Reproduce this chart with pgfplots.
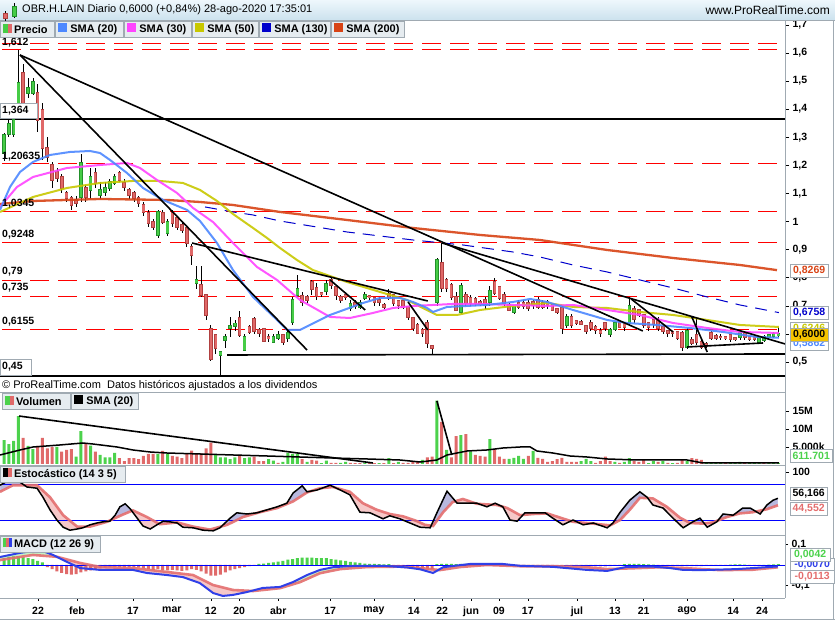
\documentclass[border=0pt]{standalone}
\usepackage{fontspec}
\setmainfont{Liberation Sans}
\usepackage{pgfplots}
\usepackage{pgfplotstable}
\pgfplotsset{compat=1.18}

\definecolor{upg}{HTML}{46CC46}
\definecolor{upgd}{HTML}{22902A}
\definecolor{dnr}{HTML}{E06868}
\definecolor{dnrd}{HTML}{B04040}
\definecolor{sma20}{HTML}{4D88FF}
\definecolor{sma30}{HTML}{FF44FF}
\definecolor{sma50}{HTML}{C8C800}
\definecolor{sma130}{HTML}{0000CC}
\definecolor{sma200}{HTML}{D84315}
\definecolor{fibred}{HTML}{FF0000}
\definecolor{framegray}{HTML}{A0AAB2}
\definecolor{boxbg}{HTML}{E6ECF0}
\definecolor{stochD}{HTML}{E46E6E}
\definecolor{lav}{HTML}{B8B8DE}
\definecolor{pinkf}{HTML}{F6C8C8}
\definecolor{greenf}{HTML}{C4F2C4}
\definecolor{gold}{HTML}{F5C400}
\definecolor{macdb}{HTML}{3040E8}
\definecolor{volg}{HTML}{4CD24C}
\definecolor{volr}{HTML}{E06A6A}
\definecolor{titletop}{HTML}{EEF7FC}
\definecolor{titlebot}{HTML}{CCE2EE}

\pgfplotstableread{
i o h l c
0 1.244 1.315 1.215 1.308
1 1.311 1.361 1.300 1.347
2 1.311 1.372 1.300 1.361
3 1.422 1.612 1.415 1.493
4 1.528 1.560 1.410 1.422
5 1.457 1.510 1.440 1.475
6 1.457 1.510 1.450 1.496
7 1.457 1.490 1.320 1.361
8 1.397 1.420 1.220 1.262
9 1.262 1.300 1.210 1.230
10 1.201 1.210 1.120 1.148
11 1.176 1.190 1.140 1.155
12 1.158 1.170 1.100 1.119
13 1.101 1.110 1.070 1.083
14 1.083 1.090 1.040 1.058
15 1.076 1.090 1.050 1.066
16 1.087 1.240 1.070 1.208
17 1.119 1.130 1.070 1.087
18 1.112 1.190 1.080 1.158
19 1.173 1.190 1.120 1.137
20 1.094 1.140 1.080 1.112
21 1.105 1.140 1.090 1.119
22 1.119 1.150 1.110 1.141
23 1.137 1.170 1.130 1.158
24 1.173 1.180 1.140 1.148
25 1.137 1.150 1.110 1.123
26 1.112 1.120 1.080 1.094
27 1.101 1.110 1.070 1.083
28 1.083 1.090 1.050 1.066
29 1.058 1.070 1.020 1.033
30 1.030 1.040 0.980 0.995
31 0.998 1.010 0.970 0.980
32 0.952 1.040 0.940 1.034
33 1.030 1.040 0.990 0.998
34 0.959 1.010 0.950 0.998
35 1.030 1.040 0.980 0.995
36 1.012 1.020 0.970 0.980
37 0.987 1.000 0.960 0.970
38 0.977 0.980 0.910 0.923
39 0.909 0.920 0.845 0.881
40 0.781 0.840 0.760 0.792
41 0.774 0.840 0.730 0.738
42 0.738 0.740 0.650 0.667
43 0.617 0.630 0.505 0.511
44 0.596 0.600 0.530 0.550
45 0.525 0.540 0.454 0.536
46 0.578 0.600 0.550 0.589
47 0.621 0.660 0.590 0.628
48 0.628 0.650 0.610 0.638
49 0.656 0.680 0.590 0.596
50 0.542 0.600 0.540 0.589
51 0.624 0.630 0.600 0.607
52 0.653 0.660 0.600 0.610
53 0.614 0.620 0.590 0.603
54 0.617 0.620 0.570 0.575
55 0.589 0.600 0.570 0.585
56 0.571 0.600 0.570 0.589
57 0.585 0.610 0.580 0.596
58 0.596 0.600 0.560 0.571
59 0.585 0.610 0.570 0.603
60 0.642 0.730 0.630 0.721
61 0.738 0.810 0.730 0.760
62 0.735 0.750 0.700 0.713
63 0.731 0.740 0.710 0.720
64 0.785 0.790 0.740 0.760
65 0.763 0.780 0.720 0.735
66 0.745 0.750 0.730 0.742
67 0.752 0.790 0.740 0.777
68 0.792 0.800 0.760 0.774
69 0.767 0.770 0.720 0.738
70 0.731 0.740 0.710 0.721
71 0.738 0.750 0.720 0.731
72 0.692 0.720 0.680 0.706
73 0.710 0.720 0.690 0.699
74 0.695 0.720 0.690 0.710
75 0.728 0.750 0.720 0.738
76 0.735 0.740 0.720 0.731
77 0.728 0.730 0.700 0.713
78 0.720 0.730 0.700 0.713
79 0.703 0.710 0.690 0.695
80 0.742 0.760 0.720 0.728
81 0.738 0.740 0.700 0.710
82 0.717 0.720 0.690 0.703
83 0.717 0.720 0.690 0.695
84 0.695 0.700 0.650 0.660
85 0.656 0.660 0.610 0.621
86 0.631 0.640 0.600 0.603
87 0.614 0.620 0.590 0.603
88 0.639 0.650 0.550 0.568
89 0.557 0.560 0.528 0.550
90 0.713 0.870 0.700 0.863
91 0.852 0.925 0.750 0.763
92 0.792 0.800 0.750 0.763
93 0.774 0.780 0.720 0.731
94 0.731 0.750 0.680 0.685
95 0.678 0.780 0.670 0.770
96 0.738 0.750 0.700 0.710
97 0.728 0.740 0.700 0.710
98 0.724 0.730 0.700 0.710
99 0.713 0.720 0.700 0.706
100 0.720 0.730 0.690 0.703
101 0.713 0.770 0.700 0.752
102 0.785 0.800 0.740 0.745
103 0.767 0.770 0.720 0.728
104 0.738 0.750 0.700 0.710
105 0.703 0.710 0.680 0.685
106 0.678 0.700 0.670 0.695
107 0.710 0.720 0.690 0.695
108 0.710 0.720 0.690 0.699
109 0.710 0.720 0.680 0.692
110 0.713 0.720 0.690 0.703
111 0.720 0.730 0.690 0.695
112 0.710 0.720 0.690 0.695
113 0.713 0.720 0.690 0.703
114 0.703 0.710 0.680 0.685
115 0.688 0.690 0.670 0.678
116 0.692 0.700 0.600 0.621
117 0.631 0.670 0.620 0.660
118 0.660 0.670 0.620 0.631
119 0.646 0.650 0.630 0.639
120 0.642 0.650 0.630 0.635
121 0.628 0.630 0.600 0.610
122 0.639 0.650 0.610 0.621
123 0.624 0.630 0.600 0.614
124 0.610 0.620 0.590 0.603
125 0.639 0.640 0.610 0.621
126 0.600 0.620 0.590 0.614
127 0.617 0.640 0.610 0.639
128 0.642 0.650 0.620 0.624
129 0.639 0.640 0.610 0.624
130 0.639 0.730 0.630 0.699
131 0.688 0.700 0.640 0.653
132 0.685 0.690 0.660 0.667
133 0.667 0.670 0.620 0.631
134 0.639 0.640 0.610 0.624
135 0.649 0.650 0.620 0.635
136 0.649 0.660 0.610 0.621
137 0.624 0.630 0.600 0.610
138 0.610 0.610 0.590 0.603
139 0.609 0.610 0.590 0.602
140 0.606 0.610 0.580 0.585
141 0.603 0.610 0.540 0.553
142 0.553 0.620 0.545 0.610
143 0.578 0.590 0.560 0.567
144 0.596 0.660 0.560 0.571
145 0.571 0.580 0.545 0.553
146 0.564 0.570 0.550 0.557
147 0.603 0.610 0.580 0.585
148 0.592 0.600 0.580 0.585
149 0.590 0.600 0.580 0.587
150 0.589 0.590 0.580 0.585
151 0.596 0.600 0.570 0.582
152 0.585 0.590 0.575 0.582
153 0.589 0.610 0.580 0.603
154 0.603 0.610 0.580 0.589
155 0.589 0.590 0.575 0.582
156 0.589 0.590 0.575 0.582
157 0.571 0.590 0.565 0.585
158 0.578 0.595 0.570 0.589
159 0.589 0.600 0.580 0.596
160 0.592 0.605 0.585 0.599
161 0.595 0.625 0.590 0.600
}\candles

\pgfplotstableread{
i v d
0 6.9 1
1 5.8 1
2 6.7 1
3 13.6 1
4 7.5 0
5 5.3 1
6 4.4 1
7 5.3 0
8 7.5 0
9 4.6 0
10 5.0 0
11 5.0 1
12 3.7 0
13 4.2 0
14 4.4 0
15 2.3 1
16 9.4 1
17 6.0 0
18 5.4 1
19 3.7 0
20 2.8 1
21 2.1 1
22 2.1 1
23 3.4 1
24 1.9 0
25 1.1 0
26 1.9 0
27 1.9 0
28 1.6 0
29 2.5 0
30 3.1 0
31 3.1 0
32 3.1 1
33 3.9 0
34 3.1 1
35 2.5 0
36 2.3 0
37 1.9 0
38 3.1 0
39 4.0 0
40 3.1 0
41 3.2 0
42 4.6 0
43 6.2 0
44 2.8 1
45 2.1 1
46 2.1 1
47 1.6 1
48 2.1 1
49 2.8 0
50 1.9 1
51 2.1 1
52 2.3 0
53 1.1 0
54 1.1 0
55 1.6 1
56 1.2 1
57 0.6 0
58 0.9 1
59 3.4 1
60 3.1 1
61 3.1 1
62 1.6 0
63 0.9 1
64 1.4 0
65 1.2 0
66 0.5 1
67 1.2 1
68 0.6 0
69 0.6 0
70 0.6 1
71 0.9 1
72 0.6 0
73 0.5 0
74 0.5 0
75 0.6 1
76 0.5 0
77 0.5 0
78 0.5 1
79 0.5 0
80 1.9 1
81 0.5 0
82 0.9 1
83 0.6 0
84 0.6 0
85 1.1 0
86 0.9 0
87 1.4 1
88 2.1 0
89 2.3 0
90 17.9 1
91 12.0 0
92 4.2 1
93 2.1 0
94 8.0 0
95 8.3 1
96 8.6 0
97 3.7 1
98 2.8 0
99 2.5 0
100 2.3 0
101 7.2 1
102 4.4 0
103 2.3 0
104 1.7 0
105 1.7 1
106 2.0 1
107 2.5 1
108 1.7 1
109 2.5 0
110 3.9 1
111 2.0 0
112 1.7 0
113 0.9 0
114 1.1 0
115 1.6 0
116 2.0 0
117 0.9 0
118 0.9 0
119 0.9 0
120 1.1 1
121 1.7 1
122 1.1 1
123 0.6 0
124 1.1 0
125 2.3 0
126 1.1 0
127 0.9 1
128 0.6 0
129 0.9 1
130 1.9 1
131 1.1 0
132 0.9 0
133 1.4 0
134 0.5 1
135 1.1 1
136 0.9 0
137 1.1 1
138 0.6 0
139 0.5 1
140 0.6 0
141 1.4 0
142 1.1 1
143 1.9 0
144 1.7 0
145 1.4 0
146 0.6 1
147 0.6 1
148 0.5 1
149 0.5 1
150 0.5 0
151 0.6 1
152 0.5 1
153 0.9 1
154 0.5 0
155 0.6 1
156 0.5 1
157 0.6 1
158 0.5 0
159 0.6 1
160 0.5 1
161 0.6 1
}\volume

\pgfplotstableread{
i h
0 0.034
1 0.039
2 0.042
3 0.042
4 0.039
5 0.034
6 0.029
7 0.020
8 0.013
9 -0.010
10 -0.020
11 -0.031
12 -0.039
13 -0.044
14 -0.047
15 -0.044
16 -0.036
17 -0.031
18 -0.026
19 -0.020
20 -0.016
21 -0.013
22 -0.010
23 -0.010
24 -0.012
25 -0.013
26 -0.012
27 -0.010
28 -0.013
29 -0.016
30 -0.020
31 -0.024
32 -0.020
33 -0.024
34 -0.026
35 -0.024
36 -0.026
37 -0.029
38 -0.026
39 -0.020
40 -0.024
41 -0.031
42 -0.042
43 -0.052
44 -0.052
45 -0.047
46 -0.036
47 -0.026
48 -0.020
49 -0.015
50 -0.010
51 -0.006
52 -0.004
53 0.005
54 0.007
55 0.010
56 0.013
57 0.017
58 0.020
59 0.026
60 0.029
61 0.033
62 0.036
63 0.036
64 0.036
65 0.034
66 0.034
67 0.033
68 0.029
69 0.026
70 0.022
71 0.020
72 0.015
73 0.013
74 0.010
75 0.007
76 0.006
77 0.005
78 0.004
79 0.003
80 0.004
81 -0.003
82 -0.003
83 -0.004
84 -0.006
85 -0.010
86 -0.014
87 -0.020
88 -0.024
89 -0.020
90 0.004
91 0.006
92 0.006
93 0.005
94 0.004
95 0.006
96 0.005
97 0.004
98 0.003
99 0.002
100 0.002
101 -0.002
102 -0.003
103 -0.003
104 -0.004
105 -0.005
106 -0.005
107 -0.004
108 -0.004
109 -0.004
110 -0.003
111 -0.004
112 -0.004
113 -0.005
114 -0.005
115 -0.006
116 -0.007
117 -0.006
118 -0.006
119 -0.005
120 -0.005
121 -0.006
122 -0.006
123 -0.007
124 -0.007
125 -0.007
126 -0.006
127 -0.004
128 -0.002
129 0.004
130 0.006
131 0.006
132 0.005
133 0.004
134 0.003
135 0.002
136 -0.004
137 -0.005
138 -0.006
139 -0.006
140 -0.006
141 -0.007
142 -0.006
143 -0.006
144 -0.005
145 -0.005
146 -0.004
147 -0.003
148 -0.002
149 -0.002
150 -0.001
151 0.002
152 0.003
153 0.003
154 0.002
155 -0.001
156 -0.002
157 -0.001
158 0.001
159 0.002
160 0.003
161 0.004
}\hist

\pgfplotstableread{
x y
-0.83 78
1.25 87
3.33 83
4.78 75
6.86 73
8.1 58
9.56 37
11.0 20
12.3 8
13.7 3
15.2 5
16.4 7
17.9 12
19.3 15
20.6 17
22.0 18
23.1 28
24.1 42
25.2 47
26.2 39
27.7 23
28.9 10
30.4 5
31.8 12
33.1 18
34.5 17
36.0 15
37.2 8
39.3 7
41.4 3
43.5 2
44.9 7
47.0 23
48.4 32
50.5 30
52.6 32
54.7 37
56.8 42
58.8 48
60.1 65
62.0 77
63.0 67
65.1 70
67.8 78
69.9 70
71.9 62
74.0 33
76.1 32
78.8 22
80.2 27
82.3 22
84.4 15
86.5 8
88.6 7
90.0 32
92.1 68
94.2 48
96.3 48
98.3 48
100.4 42
102.1 48
103.7 42
105.2 20
106.7 18
108.3 32
110.4 32
112.5 32
114.1 23
116.2 12
118.3 20
120.4 12
122.5 15
125.4 7
126.6 15
128.1 33
130.1 53
132.2 67
133.7 58
134.9 45
137.0 40
139.1 23
141.2 7
143.2 17
144.7 23
146.2 8
148.2 17
149.5 30
151.6 28
153.6 40
155.1 40
157.2 30
158.6 45
159.9 53
160.9 56.166
}\stK

\pgfplotstableread{
x y
-0.83 67
1.87 78
6.86 78
9.56 58
12.3 28
15.2 9
17.9 9
21.4 17
24.7 29
26.8 36
29.7 25
32.4 13
36.0 16
39.3 9
42.8 4
46.4 12
49.7 25
53.2 33
56.8 40
60.1 51
63.0 66
65.7 73
68.4 75
71.9 67
74.6 48
77.5 37
80.2 30
83.0 26
85.9 18
87.5 12
89.2 10
91.3 33
93.3 50
95.4 55
98.3 47
102.5 45
104.6 40
107.3 28
110.0 30
112.9 31
115.6 24
118.3 17
122.5 14
126.0 11
128.1 20
130.1 37
132.2 57
134.9 56
137.8 42
140.5 24
142.6 15
145.3 14
147.4 16
150.3 25
153.0 31
155.7 33
158.6 38
160.9 44.552
}\stD

\pgfplotstableread{
x y
-0.83 0.039
3.33 0.059
7.48 0.073
10.2 0.049
13.1 0.015
15.8 -0.015
20.0 -0.024
26.8 -0.024
29.7 -0.039
33.9 -0.049
37.2 -0.059
40.7 -0.088
43.5 -0.137
45.5 -0.151
47.6 -0.146
50.5 -0.132
53.8 -0.112
57.4 -0.107
60.1 -0.083
63.0 -0.049
65.7 -0.024
68.4 -0.011
71.9 -0.005
78.8 -0.004
83.8 -0.012
86.5 -0.021
89.2 -0.039
91.3 -0.011
93.3 -0.005
96.9 0.005
103.7 0.005
107.3 -0.004
114.1 -0.009
121.2 -0.024
125.4 -0.029
129.5 -0.009
134.9 -0.008
138.5 -0.015
141.2 -0.024
145.3 -0.025
152.4 -0.020
155.7 -0.015
160.9 -0.0070
}\macdL

\pgfplotstableread{
x y
-0.83 0.024
6.0 0.049
11.0 0.040
15.8 0.010
20.0 -0.010
26.8 -0.015
33.9 -0.034
39.3 -0.049
43.5 -0.098
47.6 -0.122
51.8 -0.127
57.4 -0.113
61.5 -0.084
65.7 -0.040
69.9 -0.020
75.5 -0.010
82.3 -0.008
86.5 -0.015
90.6 -0.025
94.8 -0.010
100.4 0.000
107.3 -0.006
114.1 -0.006
121.2 -0.011
125.4 -0.020
130.8 -0.016
136.4 -0.011
142.0 -0.016
148.9 -0.025
155.7 -0.023
160.9 -0.0113
}\sigL

% ---- helper tables for the two-colour fills between the indicator lines ----
\pgfplotstableread{
x y
160.9 -20
-0.83 -20
}\baseS
\pgfplotstableread{
x y
-3 -30
165 -30
165 130
-3 130
-3 -30
nan nan
}\rectS
\pgfplotstableread{
x y
160.9 -0.5
-0.83 -0.5
}\baseM
\pgfplotstableread{
x y
-3 -0.6
165 -0.6
165 0.5
-3 0.5
-3 -0.6
nan nan
}\rectM
\pgfplotstableread{
x y
nan nan
}\nanrow

\pgfplotstablevertcat{\polyK}{\stK}
\pgfplotstablevertcat{\polyK}{\baseS}
\pgfplotstablevertcat{\polyD}{\stD}
\pgfplotstablevertcat{\polyD}{\baseS}
\pgfplotstablevertcat{\whiteS}{\rectS}
\pgfplotstablevertcat{\whiteS}{\polyK}
\pgfplotstablevertcat{\whiteS}{\nanrow}
\pgfplotstablevertcat{\whiteS}{\polyD}

\pgfplotstablevertcat{\polyM}{\macdL}
\pgfplotstablevertcat{\polyM}{\baseM}
\pgfplotstablevertcat{\polyS}{\sigL}
\pgfplotstablevertcat{\polyS}{\baseM}
\pgfplotstablevertcat{\whiteM}{\rectM}
\pgfplotstablevertcat{\whiteM}{\polyM}
\pgfplotstablevertcat{\whiteM}{\nanrow}
\pgfplotstablevertcat{\whiteM}{\polyS}

\pgfplotsset{
  panel/.style={scale only axis, width=785pt, anchor=south west,
    xmin=-0.832, xmax=162.37, axis line style={draw=none},
    xtick=\empty, ytick pos=right, yticklabel pos=right,
    tick align=outside, major tick length=4pt,
    tick style={black, line width=0.5pt},
    yticklabel style={font=\bfseries\fontsize{10.5}{12}\selectfont, text=black},
    clip=true},
  ebar/.style 2 args={draw=none, mark=none, forget plot, restrict y to domain=0:5,
    error bars/.cd, y dir=both, y explicit, error mark=none,
    error bar style={draw=#1, line width=#2}},
}

\newcommand{\pricetag}[5]{% y center, text color, text, fill, width
  \node[draw=framegray, fill=#4, text=#2, inner sep=0pt, minimum width=#5pt,
        minimum height=13pt, anchor=west,
        font=\bfseries\fontsize{10.5}{12}\selectfont] at (790,#1) {#3};}
\newcommand{\legbox}[4]{% x0, x1, ytop(tikz), content
  \filldraw[fill=boxbg, draw=framegray, line width=0.6pt] (#1,#3) rectangle (#2,#3-16);
  \node[anchor=west, inner sep=0pt, font=\bfseries\fontsize{11}{12}\selectfont] at (#1+3,#3-8) {#4};}
\newcommand{\swatch}[1]{\textcolor{#1}{\rule{9pt}{9pt}}}

\begin{document}
\begin{tikzpicture}[x=1pt,y=1pt]
\useasboundingbox (0,0) rectangle (835,620);
\fill[white] (0,0) rectangle (835,620);

% ================= MAIN PRICE PANEL =================
\begin{axis}[panel, at={(0pt,228pt)}, height=372pt, ymin=0.3932, ymax=1.7171,
  ytick={0.5,0.6,0.7,0.8,0.9,1,1.1,1.2,1.3,1.4,1.5,1.6,1.7},
  yticklabels={{0,5},{},{0,7},{0,8},{0,9},1,{1,1},{1,2},{1,3},{1,4},{1,5},{1,6},{1,7}}]
\addplot[fibred, line width=0.9pt, dash pattern=on 19pt off 9pt, dash phase=26pt] coordinates {(-0.832,1.635) (162.37,1.635)};
\addplot[fibred, line width=0.9pt, dash pattern=on 19pt off 9pt, dash phase=26pt] coordinates {(-0.832,1.612) (162.37,1.612)};
\addplot[fibred, line width=0.9pt, dash pattern=on 19pt off 9pt, dash phase=26pt] coordinates {(-0.832,1.20635) (162.37,1.20635)};
\addplot[fibred, line width=0.9pt, dash pattern=on 19pt off 9pt, dash phase=26pt] coordinates {(-0.832,1.0345) (162.37,1.0345)};
\addplot[fibred, line width=0.9pt, dash pattern=on 19pt off 9pt, dash phase=26pt] coordinates {(-0.832,0.9248) (162.37,0.9248)};
\addplot[fibred, line width=0.9pt, dash pattern=on 19pt off 9pt, dash phase=26pt] coordinates {(-0.832,0.79) (162.37,0.79)};
\addplot[fibred, line width=0.9pt, dash pattern=on 19pt off 9pt, dash phase=26pt] coordinates {(-0.832,0.735) (162.37,0.735)};
\addplot[fibred, line width=0.9pt, dash pattern=on 19pt off 9pt, dash phase=26pt] coordinates {(-0.832,0.6155) (162.37,0.6155)};
\addplot[black, line width=2.2pt] coordinates {(-0.832,1.364) (162.37,1.364)};
\addplot[black, line width=2.2pt] coordinates {(-0.832,0.45) (162.37,0.45)};
% candles
\addplot[ebar={black}{0.7pt}] table[x=i, y expr={(\thisrow{h}+\thisrow{l})/2}, y error expr={(\thisrow{h}-\thisrow{l})/2}]{\candles};
\addplot[ebar={upgd}{3.6pt}] table[x=i, y expr={\thisrow{c}>=\thisrow{o} ? (\thisrow{o}+\thisrow{c})/2 : -1}, y error expr={abs(\thisrow{c}-\thisrow{o})/2+0.0025}]{\candles};
\addplot[ebar={upg}{2.2pt}] table[x=i, y expr={\thisrow{c}>=\thisrow{o} ? (\thisrow{o}+\thisrow{c})/2 : -1}, y error expr={abs(\thisrow{c}-\thisrow{o})/2}]{\candles};
\addplot[ebar={dnrd}{3.6pt}] table[x=i, y expr={\thisrow{c}<\thisrow{o} ? (\thisrow{o}+\thisrow{c})/2 : -1}, y error expr={abs(\thisrow{c}-\thisrow{o})/2+0.0025}]{\candles};
\addplot[ebar={dnr}{2.2pt}] table[x=i, y expr={\thisrow{c}<\thisrow{o} ? (\thisrow{o}+\thisrow{c})/2 : -1}, y error expr={abs(\thisrow{c}-\thisrow{o})/2}]{\candles};
% SMA 200
\addplot[sma200, line width=2.3pt, opacity=0.9] coordinates {(-0.83,1.0623) (6.03,1.0730) (19.96,1.0801) (33.9,1.0766) (40.75,1.0694) (47.6,1.0588) (57.38,1.0339) (71.3,1.0054) (85.0,0.9769) (99.0,0.9520) (111.4,0.9342) (125.4,0.8986) (139.1,0.8701) (153.0,0.8452) (160.7,0.8269)};
% SMA 130
\addplot[sma130, line width=1pt, dash pattern=on 12pt off 8pt] coordinates {(41.8,1.0517) (47.6,1.0339) (51.77,1.0232) (57.38,1.0018) (71.3,0.9627) (85.0,0.9342) (95.4,0.9164) (105.8,0.8915) (111.4,0.8737) (118.3,0.8452) (125.4,0.8203) (132.2,0.7919) (139.1,0.7634) (146.2,0.7314) (153.0,0.7029) (161.1,0.6758)};
% SMA 50
\addplot[sma50, line width=2pt, opacity=0.9] coordinates {(-0.83,1.0339) (6.03,1.0872) (13.1,1.1193) (19.96,1.1371) (26.8,1.1442) (32.4,1.1442) (37.2,1.1371) (40.75,1.1122) (44.28,1.0730) (47.6,1.0268) (51.77,0.9769) (54.68,0.9413) (57.38,0.9057) (60.9,0.8630) (64.2,0.8274) (71.3,0.7847) (78.2,0.7491) (83.8,0.7207) (87.9,0.6851) (90.0,0.6673) (94.2,0.6673) (99.0,0.6851) (105.8,0.6994) (112.9,0.7100) (118.3,0.6958) (125.4,0.6922) (132.2,0.6780) (139.1,0.6673) (146.2,0.6495) (153.0,0.6317) (161.1,0.6246)};
% SMA 30
\addplot[sma30, line width=2pt, opacity=0.9] coordinates {(-0.83,1.0517) (2.7,1.1228) (6.03,1.1584) (13.1,1.1904) (19.96,1.2011) (25.57,1.2082) (28.27,1.1904) (31.8,1.1477) (35.97,1.1015) (39.3,1.0481) (43.45,0.9981) (47.6,0.9235) (52.6,0.8381) (56.76,0.7919) (61.54,0.7207) (67.78,0.6602) (71.93,0.6566) (76.7,0.6744) (80.87,0.6922) (85.03,0.6994) (89.19,0.7029) (93.35,0.7065) (98.96,0.7065) (105.8,0.7029) (112.9,0.6994) (118.3,0.7029) (125.4,0.6851) (132.2,0.6673) (139.1,0.6388) (146.2,0.6210) (153.0,0.6068) (161.1,0.6033)};
% SMA 20
\addplot[sma20, line width=2pt, opacity=0.9] coordinates {(-0.83,1.0410) (1.25,1.1228) (3.33,1.1762) (6.03,1.2118) (9.56,1.2367) (13.72,1.2474) (17.88,1.2509) (19.96,1.2438) (22.04,1.2189) (25.57,1.1726) (28.9,1.1193) (33.06,1.0766) (38.05,1.0410) (40.75,1.0018) (44.28,0.9235) (47.6,0.8274) (51.77,0.7314) (56.76,0.6495) (58.84,0.6139) (61.54,0.6139) (67.78,0.6673) (74.64,0.7100) (78.17,0.7278) (82.33,0.7278) (85.03,0.7136) (87.94,0.6922) (89.19,0.6780) (92.1,0.6958) (96.26,0.6994) (100.4,0.7029) (105.8,0.7136) (109.4,0.7242) (112.9,0.7136) (118.3,0.6851) (125.4,0.6495) (129.5,0.6388) (135.8,0.6317) (142.6,0.6210) (149.5,0.6068) (156.5,0.5890) (161.1,0.5862)};
% trendlines
\addplot[black, line width=1.6pt] coordinates {(3.33,1.5926) (132.8,0.6104)};
\addplot[black, line width=1.6pt] coordinates {(3.33,1.5926) (63.0,0.5427)};
\addplot[black, line width=1.6pt] coordinates {(91.06,0.9235) (162.4,0.5641)};
\addplot[black, line width=1.6pt] coordinates {(39.1,0.9235) (88.1,0.7171)};
\addplot[black, line width=1.6pt] coordinates {(67.8,0.7918) (75.1,0.6851)};
\addplot[black, line width=1.6pt] coordinates {(84.0,0.7136) (88.1,0.6139)};
\addplot[black, line width=1.6pt] coordinates {(130.4,0.7242) (139.1,0.6068)};
\addplot[black, line width=1.6pt] coordinates {(143.0,0.6602) (146.2,0.5356)};
\addplot[black, line width=1.6pt] coordinates {(142.0,0.5534) (157.8,0.5676)};
\addplot[black, line width=1.6pt] coordinates {(46.4,0.5249) (162.4,0.5285)};
\end{axis}

% ================= VOLUME PANEL =================
\begin{axis}[panel, at={(0pt,155pt)}, height=73pt, ymin=0, ymax=20.28,
  ytick={5,10,15}, yticklabels={5.000k,10M,15M}]
\addplot[ybar, bar width=3pt, bar shift=0pt, fill=volg, draw=none, restrict y to domain=0:100]
  table[x=i, y expr={\thisrow{d}>0.5 ? \thisrow{v} : -1}]{\volume};
\addplot[ybar, bar width=3pt, bar shift=0pt, fill=volr, draw=none, restrict y to domain=0:100]
  table[x=i, y expr={\thisrow{d}<0.5 ? \thisrow{v} : -1}]{\volume};
\addplot[black, line width=1.5pt] coordinates {(-0.83,2.78) (3.33,4.17) (6.03,5.0) (11.6,5.56) (16.4,6.11) (18.5,5.83) (23.5,5.0) (26.8,4.17) (30.4,3.61) (33.9,3.33) (40.7,3.06) (47.6,2.78) (54.7,2.5) (61.5,2.22) (68.4,1.94) (75.5,1.67) (82.3,1.39) (86.5,0.83) (90.0,1.39) (92.1,2.78) (96.3,3.89) (100.4,4.17) (103.7,4.72) (107.3,5.0) (109.4,5.0) (110.8,3.89) (114.1,3.33) (117.7,2.5) (121.2,2.22) (125.4,1.67) (131.6,1.39) (142.0,1.39) (145.3,0.56) (155.7,0.56) (161.1,0.61)};
\addplot[black, line width=1.6pt] coordinates {(3.12,13.6) (76.7,0.56)};
\addplot[black, line width=1.6pt] coordinates {(90.0,17.8) (93.1,2.78)};
\end{axis}

% ================= STOCHASTIC PANEL =================
\begin{axis}[panel, at={(0pt,85pt)}, height=70pt, ymin=-5, ymax=111.7,
  ytick={100}, yticklabels={100}]
\addplot[fill=lav, draw=none] table[x=x,y=y]{\polyK};
\addplot[fill=pinkf, draw=none] table[x=x,y=y]{\polyD};
\addplot[fill=white, draw=none, even odd rule, unbounded coords=jump] table[x=x,y=y]{\whiteS};
\addplot[blue, line width=0.8pt] coordinates {(-0.832,80) (162.37,80)};
\addplot[blue, line width=0.8pt] coordinates {(-0.832,20) (162.37,20)};
\addplot[stochD, line width=2.6pt, opacity=0.9] table[x=x,y=y]{\stD};
\addplot[black, line width=1.5pt] table[x=x,y=y]{\stK};
\end{axis}

% ================= MACD PANEL =================
\begin{axis}[panel, at={(0pt,22pt)}, height=63pt, ymin=-0.161, ymax=0.1463,
  ytick={-0.1,0.1}, yticklabels={{-0,1},{0,1}},
  xtick={7.07,15.18,26.8,34.9,43.0,48.9,57.0,67.8,76.9,85.2,91.1,97.1,102.9,108.9,119.1,127.0,133.0,142.0,151.6,157.6},
  xticklabels={22,feb,17,mar,12,20,abr,17,may,14,22,jun,09,17,jul,13,21,ago,14,24},
  xtick pos=bottom, xticklabel pos=bottom, major tick length=3pt,
  xticklabel style={font=\bfseries\fontsize{10.5}{12}\selectfont, yshift=-2.5pt}]
\addplot[fill=greenf, draw=none] table[x=x,y=y]{\polyM};
\addplot[fill=pinkf, draw=none] table[x=x,y=y]{\polyS};
\addplot[fill=white, draw=none, even odd rule, unbounded coords=jump] table[x=x,y=y]{\whiteM};
\addplot[ybar, bar width=3pt, bar shift=0pt, fill=volg, draw=none, restrict y to domain=0:1]
  table[x=i, y=h]{\hist};
\addplot[ybar, bar width=3pt, bar shift=0pt, fill=volr, draw=none, restrict y to domain=-1:0]
  table[x=i, y=h]{\hist};
\addplot[blue, line width=0.8pt] coordinates {(-0.832,0) (162.37,0)};
\addplot[stochD, line width=2.6pt, opacity=0.9] table[x=x,y=y]{\sigL};
\addplot[macdb, line width=2pt] table[x=x,y=y]{\macdL};
\end{axis}

% ================= FRAMES =================
\draw[framegray, line width=0.8pt] (785,22) -- (785,600);
\draw[framegray, line width=0.8pt] (0,228) -- (785,228);
\draw[framegray, line width=0.8pt] (0,155) -- (785,155);
\draw[framegray, line width=0.8pt] (0,85) -- (785,85);
\draw[framegray, line width=0.8pt] (0,22) -- (785,22);
\draw[framegray, line width=0.8pt] (833.5,0) -- (833.5,620);
\draw[framegray, line width=0.8pt] (0,0.4) -- (835,0.4);

% ================= TITLE BAR =================
\shade[top color=titletop, bottom color=titlebot] (0,600) rectangle (835,620);
\draw[framegray, line width=0.8pt] (0,600) -- (835,600);
\draw[black, line width=0.5pt] (5.5,598) -- (5.5,608.5);
\filldraw[fill=dnr, draw=dnrd, line width=0.5pt] (3.5,601.5) rectangle (7.5,606.5);
\draw[black, line width=0.5pt] (14.5,602) -- (14.5,617);
\filldraw[fill=upg, draw=upgd, line width=0.5pt] (12.5,604) rectangle (16.5,613.5);
\node[anchor=west, inner sep=0pt, font=\fontsize{11}{13}\selectfont] at (22,610) {OBR.H.LAIN Diario 0,6000 (+0,84\%) 28-ago-2020 17:35:01};
\node[anchor=east, inner sep=0pt, font=\fontsize{12}{14}\selectfont] at (830,609.5) {www.ProRealTime.com};

% ================= LEFT LEVEL LABELS =================
\def\lvfont{\bfseries\fontsize{10.5}{12}\selectfont}
\node[anchor=west, inner sep=0pt, font=\lvfont] at (2,577.5) {1,612};
\filldraw[fill=white, draw=framegray, line width=0.6pt] (0,502) rectangle (37,517);
\node[anchor=west, inner sep=0pt, font=\lvfont] at (2,509.5) {1,364};
\node[anchor=west, inner sep=0pt, font=\lvfont] at (2,463.5) {1,20635};
\node[anchor=west, inner sep=0pt, font=\lvfont] at (2,416) {1,0345};
\node[anchor=west, inner sep=0pt, font=\lvfont] at (2,385) {0,9248};
\node[anchor=west, inner sep=0pt, font=\lvfont] at (2,348) {0,79};
\node[anchor=west, inner sep=0pt, font=\lvfont] at (2,332.5) {0,735};
\node[anchor=west, inner sep=0pt, font=\lvfont] at (2,298.5) {0,6155};
\filldraw[fill=white, draw=framegray, line width=0.6pt] (0,245) rectangle (31,261);
\node[anchor=west, inner sep=0pt, font=\lvfont] at (2,253) {0,45};
\node[anchor=west, inner sep=0pt, font=\fontsize{11}{13}\selectfont] at (2,234) {© ProRealTime.com\ \ Datos históricos ajustados a los dividendos};

% ================= LEGEND BOXES =================
\legbox{0}{54}{599}{\textcolor{upg}{\rule{4.5pt}{9pt}}\textcolor{dnr}{\rule{4.5pt}{9pt}}\,Precio}
\legbox{55}{123}{599}{\swatch{sma20}\ SMA (20)}
\legbox{124}{191}{599}{\swatch{sma30}\ SMA (30)}
\legbox{192}{258}{599}{\swatch{sma50}\ SMA (50)}
\legbox{259}{330}{599}{\swatch{sma130}\ SMA (130)}
\legbox{331}{404}{599}{\swatch{sma200}\ SMA (200)}
\legbox{2}{70}{227}{\textcolor{volg}{\rule{4.5pt}{9pt}}\textcolor{volr}{\rule{4.5pt}{9pt}}\,Volumen}
\legbox{71}{138}{227}{\swatch{black}\ SMA (20)}
\legbox{0}{125}{154}{\textcolor{black}{\rule{4.5pt}{9pt}}\textcolor{volr}{\rule{4.5pt}{9pt}}\,Estocástico (14 3 5)}
\legbox{0}{100}{84}{\textcolor{volg}{\rule{3pt}{9pt}}\textcolor{volr}{\rule{3pt}{9pt}}\textcolor{macdb}{\rule{3pt}{9pt}}\,MACD (12 26 9)}

% ================= RIGHT TAGS =================
\pricetag{349.5}{sma200}{0,8269}{white}{38}
\pricetag{307.5}{sma130}{0,6758}{white}{38}
\pricetag{291}{sma50}{0,6246}{white}{38}
\pricetag{276.5}{sma20}{0,5862}{white}{38}
\pricetag{285.5}{black}{0,6000}{gold}{38}
\pricetag{164}{volg}{611.701}{white}{42}
\pricetag{126.5}{black}{56,166}{white}{37}
\pricetag{111}{stochD}{44,552}{white}{37}
\pricetag{55}{macdb}{-0,0070}{white}{44}
\pricetag{65}{volg}{0,0042}{white}{40}
\pricetag{43}{stochD}{-0,0113}{white}{44}
\end{tikzpicture}
\end{document}
